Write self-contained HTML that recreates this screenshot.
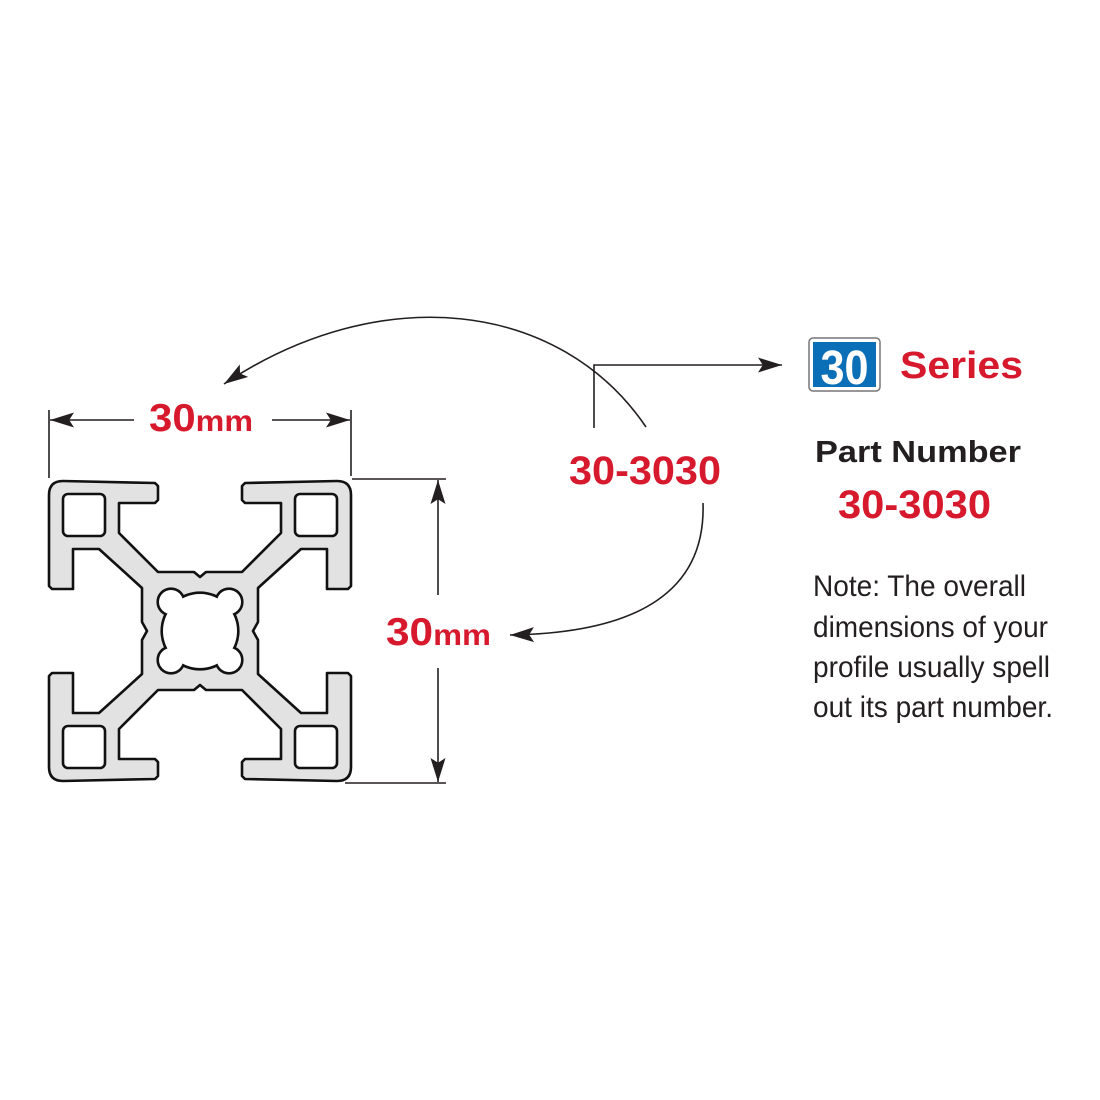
<!DOCTYPE html>
<html><head><meta charset="utf-8"><style>
html,body{margin:0;padding:0;background:#fff;}
svg{display:block}
</style></head><body>
<svg width="1100" height="1100" viewBox="0 0 1100 1100" xmlns="http://www.w3.org/2000/svg">
<defs>
<marker id="arb" viewBox="0 0 10 10" refX="10" refY="5" markerWidth="24" markerHeight="15" markerUnits="userSpaceOnUse" orient="auto" preserveAspectRatio="none">
<path d="M0,0 L10,5 L0,10 L2,5 Z" fill="#231f20"/>
</marker>
</defs>

<path fill="#e1e2e1" stroke="#111" stroke-width="2.6" stroke-linejoin="round" d="
M147,631 L142,622 L142,588 L99,549 L73,549 L73,589 L52,589 L49,586 L49,495 Q49,481 63,481 L155,483 L158,486 L158,500 L155,503 L119,503 L119,533 L158,572 L194,572 L200,577
L206,572 L242,572 L281,533 L281,503 L245,503 L242,500 L242,486 L245,483 L337,481 Q351,481 351,495 L351,586 L348,589 L327,589 L327,549 L301,549 L258,588 L258,622 L253,631
L258,640 L258,674 L301,713 L327,713 L327,673 L348,673 L351,676 L351,767 Q351,781 337,781 L245,779 L242,776 L242,762 L245,759 L281,759 L281,729 L242,690 L206,690 L200,685
L194,690 L158,690 L119,729 L119,759 L155,759 L158,762 L158,776 L155,779 L63,781 Q49,781 49,767 L49,676 L52,673 L73,673 L73,713 L99,713 L142,674 L142,640 Z"/>
<g fill="#fff" stroke="#111" stroke-width="2.6">
<rect x="63" y="494" width="42" height="42" rx="5"/>
<rect x="295" y="494" width="42" height="42" rx="5"/>
<rect x="63" y="726" width="42" height="42" rx="5"/>
<rect x="295" y="726" width="42" height="42" rx="5"/>
</g>
<g stroke="#111" stroke-width="5.2" fill="#111">
<circle cx="200" cy="631" r="37"/>
<circle cx="171" cy="602" r="12"/><circle cx="229" cy="602" r="12"/>
<circle cx="171" cy="660" r="12"/><circle cx="229" cy="660" r="12"/>
</g>
<g fill="#fff">
<circle cx="200" cy="631" r="37"/>
<circle cx="171" cy="602" r="12"/><circle cx="229" cy="602" r="12"/>
<circle cx="171" cy="660" r="12"/><circle cx="229" cy="660" r="12"/>
</g>

<g stroke="#231f20" stroke-width="1.6" fill="none">
<line x1="49" y1="410" x2="49" y2="478"/>
<line x1="351" y1="410" x2="351" y2="476"/>
<line x1="134" y1="420" x2="50" y2="420" marker-end="url(#arb)"/>
<line x1="272" y1="420" x2="350" y2="420" marker-end="url(#arb)"/>
<line x1="352" y1="479" x2="446" y2="479"/>
<line x1="345" y1="783" x2="446" y2="783"/>
<line x1="438" y1="595" x2="438" y2="480" marker-end="url(#arb)"/>
<line x1="438" y1="668" x2="438" y2="782" marker-end="url(#arb)"/>
<path d="M646,427 C560,300 380,280 224,384" marker-end="url(#arb)"/>
<path d="M703,503 C706,590 640,633 510,635" marker-end="url(#arb)"/>
<path d="M594,428 L594,365 L782,365" marker-end="url(#arb)"/>
</g>

<g font-family="Liberation Sans, Arial, sans-serif" font-weight="bold" fill="#d7192e">
<text x="149" y="431" textLength="104" lengthAdjust="spacingAndGlyphs"><tspan font-size="39">30</tspan><tspan font-size="30">mm</tspan></text>
<text x="386" y="645" textLength="105" lengthAdjust="spacingAndGlyphs"><tspan font-size="39">30</tspan><tspan font-size="30">mm</tspan></text>
<text x="569" y="484" font-size="40" textLength="152" lengthAdjust="spacingAndGlyphs">30-3030</text>
<text x="900" y="378" font-size="38" textLength="123" lengthAdjust="spacingAndGlyphs">Series</text>
<text x="838" y="518" font-size="40" textLength="153" lengthAdjust="spacingAndGlyphs">30-3030</text>
</g>

<rect x="809" y="338" width="71" height="53" rx="4" fill="#fff" stroke="#777" stroke-width="1.5"/>
<rect x="813" y="342" width="63" height="45" fill="#0b6fb7"/>
<text x="844.5" y="384" text-anchor="middle" font-family="Liberation Sans, Arial, sans-serif" font-weight="bold" font-size="48" fill="#fff" textLength="48" lengthAdjust="spacingAndGlyphs">30</text>

<text x="815" y="462" font-family="Liberation Sans, Arial, sans-serif" font-weight="bold" font-size="31" fill="#231f20" textLength="206" lengthAdjust="spacingAndGlyphs">Part Number</text>

<g font-family="Liberation Sans, Arial, sans-serif" font-size="30" fill="#231f20">
<text x="813" y="596" textLength="213" lengthAdjust="spacingAndGlyphs">Note: The overall</text>
<text x="813" y="637" textLength="235" lengthAdjust="spacingAndGlyphs">dimensions of your</text>
<text x="813" y="677" textLength="237" lengthAdjust="spacingAndGlyphs">profile usually spell</text>
<text x="813" y="717" textLength="240" lengthAdjust="spacingAndGlyphs">out its part number.</text>
</g>
</svg>
</body></html>
